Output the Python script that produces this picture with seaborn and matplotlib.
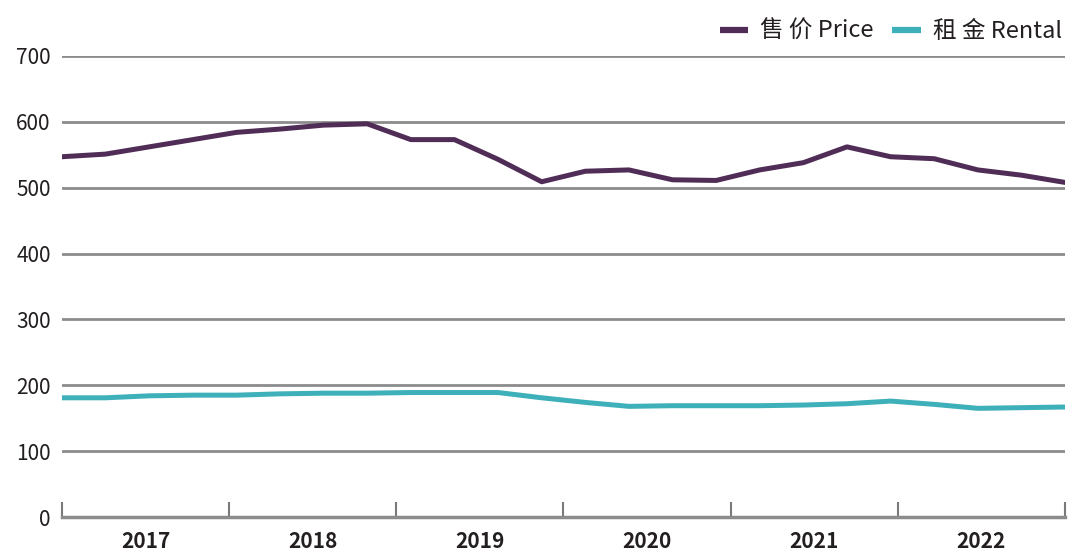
import numpy as np
import pandas as pd
import matplotlib
matplotlib.use("Agg")
import matplotlib.pyplot as plt
import seaborn as sns

years = ["2017", "2018", "2019", "2020", "2021", "2022"]
quarters = [f"{y}Q{q}" for y in years for q in range(1, 5)]
price = [547, 551, 562, 573, 584, 589, 595, 597, 573, 573, 543, 509,
         525, 527, 512, 511, 527, 538, 562, 547, 544, 527, 519, 508]
rental = [181, 181, 184, 185, 185, 187, 188, 188, 189, 189, 189, 181,
          174, 168, 169, 169, 169, 170, 172, 176, 171, 165, 166, 167]
series_names = ["售 价 Price", "租 金 Rental"]
colors = ["#502d56", "#3eb0b9"]
yticks = [0, 100, 200, 300, 400, 500, 600, 700]

sns.set_theme(style="white")
plt.rcParams['font.family'] = ['Noto Sans CJK SC', 'DejaVu Sans']

n = len(quarters)
df = pd.DataFrame({
    "idx": list(range(n)) * 2,
    "value": price + rental,
    "series": [series_names[0]] * n + [series_names[1]] * n,
})

fig = plt.figure(figsize=(10.72, 5.52), dpi=100)
ax = fig.add_axes([0.0578, 0.0634, 0.9357, 0.8352])
sns.lineplot(data=df, x="idx", y="value", hue="series",
             palette=dict(zip(series_names, colors)), linewidth=3.6,
             ax=ax, legend=True)

ax.set_xlim(0, n - 1)
ax.set_ylim(0, 700)
ax.set_yticks(yticks)
ax.set_yticklabels([str(v) for v in yticks], fontsize=15, color="#231f20")
for v in yticks[1:]:
    ax.axhline(v, color="#8c8c8c", linewidth=2, zorder=0)

# Year boundaries ticks
bounds = np.linspace(0, n - 1, len(years) + 1)
ax.set_xticks(bounds)
ax.set_xticklabels([])
centers = (bounds[:-1] + bounds[1:]) / 2
ax.set_xticks(centers, minor=True)
ax.set_xticklabels(years, minor=True, fontsize=15, fontweight="bold", color="#231f20")
ax.tick_params(axis="x", which="major", bottom=True, direction="in", length=11, width=1.5, color="#7a7a7a")
ax.tick_params(axis="x", which="minor", bottom=True, length=0, pad=10)
ax.tick_params(axis="y", length=0, pad=8)

for s in ["top", "right", "left"]:
    ax.spines[s].set_visible(False)
ax.spines["bottom"].set_color("#8c8c8c")
ax.spines["bottom"].set_linewidth(2.5)

ax.set_xlabel("")
ax.set_ylabel("")

handles, labels = ax.get_legend_handles_labels()
leg = ax.legend(handles, labels, loc="lower right", bbox_to_anchor=(1.006, 1.008),
                ncol=2, frameon=False, fontsize=17, handlelength=1.2,
                handletextpad=0.5, columnspacing=0.8, borderaxespad=0)
for h in leg.legend_handles:
    h.set_solid_capstyle("butt")
    h.set_linewidth(4.5)
for t in leg.get_texts():
    t.set_color("#231f20")

fig.savefig("out.png", dpi=100)
